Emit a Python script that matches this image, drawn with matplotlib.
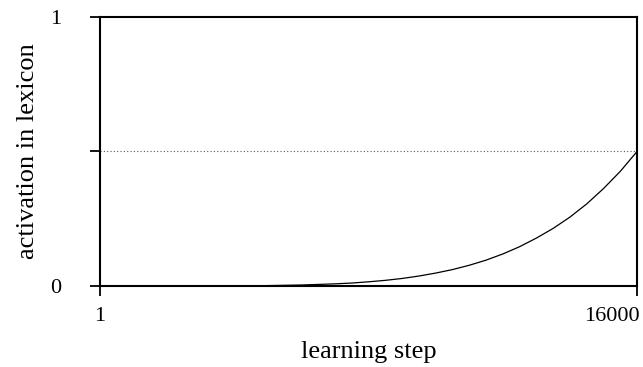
import matplotlib
matplotlib.use("Agg")
import matplotlib.pyplot as plt
from matplotlib.transforms import ScaledTranslation

# activation read at intervals of the learning run
steps = [1, 1000, 2000, 3000, 4000, 5000, 6000, 7000, 7500, 8000, 8500,
         9000, 9500, 10000, 10500, 11000, 11500, 12000, 12500, 13000,
         13500, 14000, 14500, 15000, 15500, 16000]
activation = [0.0, 0.0, 0.00002, 0.00012, 0.0005, 0.0015, 0.0037, 0.008,
              0.011, 0.0156, 0.021, 0.028, 0.037, 0.048, 0.061, 0.077,
              0.096, 0.119, 0.146, 0.178, 0.214, 0.256, 0.305, 0.362,
              0.426, 0.5]
threshold = 0.5

xticks = [1, 16000]
yticks = [0, 0.5, 1]
yticklabels = ["0", "", "1"]

plt.rcParams['font.family'] = ['Liberation Serif', 'DejaVu Serif']

fig = plt.figure(figsize=(6.43, 3.67), dpi=100)
ax = fig.add_axes([0.1555, 0.2207, 0.8352, 0.733])

ax.axhline(threshold, color="#555555", lw=0.8, ls=(0, (1, 2)))
ax.plot(steps, activation, color="black", lw=0.9)

ax.set_xlim(1, 16000)
ax.set_ylim(0, 1)
ax.set_xticks(xticks)
ax.set_yticks(yticks)
ax.set_yticklabels(yticklabels)
ax.tick_params(direction="out", length=7, width=1.3, labelsize=16)
ax.tick_params(axis="x", pad=8)
ax.tick_params(axis="y", pad=21)
for s in ax.spines.values():
    s.set_linewidth(1.5)

# keep the last step label inside the figure
last = ax.get_xticklabels()[-1]
last.set_horizontalalignment("right")
last.set_transform(last.get_transform() + ScaledTranslation(0.03, 0, fig.dpi_scale_trans))

ax.set_xlabel("learning step", fontsize=19, labelpad=11)
ax.set_ylabel("activation in lexicon", fontsize=19, labelpad=8)

fig.savefig("out.png", dpi=100)
